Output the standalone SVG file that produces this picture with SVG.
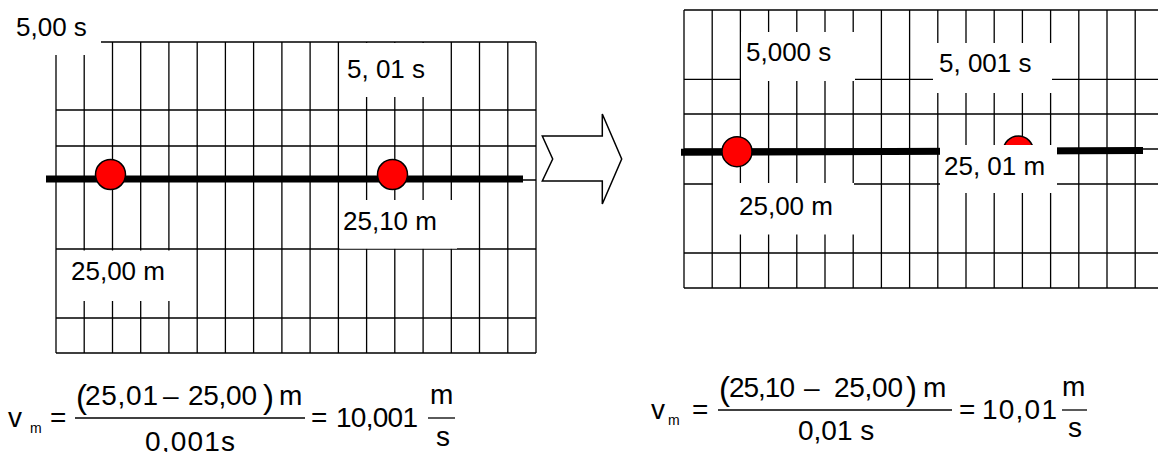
<svg xmlns="http://www.w3.org/2000/svg" width="1158" height="452" viewBox="0 0 1158 452">
<style>
.g{stroke:#000;stroke-width:1.3;fill:none}
.mask{fill:#fff;stroke:none}
.t{font-family:"Liberation Sans",Arial,sans-serif;font-size:26px;fill:#000}
.f{font-family:"Liberation Sans",Arial,sans-serif;font-size:28px;fill:#000}
.sub{font-family:"Liberation Sans",Arial,sans-serif;font-size:14px;fill:#000}
.par{font-family:"Liberation Sans",Arial,sans-serif;font-size:33px;fill:#000}
.thick{stroke:#000;stroke-width:7;fill:none}
.ball{fill:#ff0000;stroke:#000;stroke-width:1.5}
.bar{stroke:#000;stroke-width:1.3}
</style>
<rect width="1158" height="452" fill="#fff"/>

<g id="left-panel">
  <g class="g">
    <path d="M56 42V353M84.2 42V353M112.5 42V353M140.7 42V353M168.9 42V353M197.2 42V353M225.4 42V353M253.6 42V353M281.9 42V353M310.1 42V353M338.4 42V353M366.6 42V353M394.8 42V353M423.1 42V353M451.3 42V353M479.5 42V353M507.8 42V353M536 42V353"/>
    <path d="M56 42H536M56 110H536M56 146H536M56 180H536M56 249H536M56 318H536M56 353H536"/>
  </g>
  <rect class="mask" x="0" y="0" width="101" height="55"/>
  <rect class="mask" x="340" y="43" width="108" height="54"/>
  <rect class="mask" x="57.5" y="250.5" width="138.5" height="50.5"/>
  <rect class="mask" x="339.5" y="200" width="117.5" height="48.7"/>
  <line class="thick" x1="46" y1="179" x2="523" y2="179"/>
  <circle class="ball" cx="110.5" cy="174.5" r="15"/>
  <circle class="ball" cx="392.5" cy="174.5" r="15"/>
  <text class="t" x="16" y="35.5">5,00 s</text>
  <text class="t" x="347" y="78">5, 01 s</text>
  <text class="t" x="343" y="230">25,10 m</text>
  <text class="t" x="71" y="280">25,00 m</text>
</g>

<g id="arrow">
  <polygon points="542.3,136 602.3,136 602.3,114 621.7,159 602.3,204 602.3,181 542.3,181 552.7,159" fill="#fff" stroke="#000" stroke-width="1.5"/>
</g>

<g id="right-panel">
  <g class="g">
    <path d="M684 10V288M712.2 10V288M740.4 10V288M768.6 10V288M796.8 10V288M825 10V288M853.2 10V288M881.4 10V288M909.6 10V288M937.8 10V288M966 10V288M994.2 10V288M1022.4 10V288M1050.6 10V288M1078.8 10V288M1107 10V288M1135.2 10V288"/>
    <path d="M684 10H1158M684 79.3H1158M684 114H1158M684 149H1158M684 184H1158M684 253H1158M684 288H1158"/>
  </g>
  <rect class="mask" x="741" y="32" width="114" height="49"/>
  <rect class="mask" x="933" y="43" width="119" height="50"/>
  <rect class="mask" x="713" y="183" width="141" height="51.5"/>
  <line class="thick" x1="681" y1="152.3" x2="1143" y2="150.5"/>
  <circle class="ball" cx="737" cy="151.7" r="15"/>
  <circle class="ball" cx="1018.3" cy="151" r="15"/>
  <rect class="mask" x="940" y="145" width="117" height="48"/>
  <text class="t" x="746" y="61">5,000 s</text>
  <text class="t" x="939" y="71.5">5, 001 s</text>
  <text class="t" x="739" y="215">25,00 m</text>
  <text class="t" x="944" y="175">25, 01 m</text>
</g>

<g id="formula-left">
  <text class="f" x="8" y="427">v</text>
  <text class="sub" x="30" y="433">m</text>
  <text class="f" x="50" y="427">=</text>
  <text class="par" x="76" y="408">(</text>
  <text class="f" x="85" y="405" textLength="73">25,01</text>
  <text class="f" x="163" y="405">–</text>
  <text class="f" x="188" y="405" textLength="69">25,00</text>
  <text class="par" x="263" y="408">)</text>
  <text class="f" x="279" y="405">m</text>
  <line class="bar" x1="75" y1="418" x2="305" y2="418"/>
  <text class="f" x="145" y="451" textLength="90">0,001s</text>
  <text class="f" x="311" y="427">=</text>
  <text class="f" x="336" y="427" textLength="82">10,001</text>
  <text class="f" x="430" y="404">m</text>
  <line class="bar" x1="428" y1="418" x2="455" y2="418"/>
  <text class="f" x="436" y="446">s</text>
</g>

<g id="formula-right">
  <text class="f" x="651" y="419">v</text>
  <text class="sub" x="668" y="425">m</text>
  <text class="f" x="692" y="419">=</text>
  <text class="par" x="719" y="400">(</text>
  <text class="f" x="729" y="397" textLength="66">25,10</text>
  <text class="f" x="804" y="397">–</text>
  <text class="f" x="834" y="397" textLength="69">25,00</text>
  <text class="par" x="906" y="400">)</text>
  <text class="f" x="923" y="397">m</text>
  <line class="bar" x1="718" y1="410" x2="952" y2="410"/>
  <text class="f" x="798" y="440">0,01 s</text>
  <text class="f" x="959" y="419">=</text>
  <text class="f" x="982" y="419" textLength="75">10,01</text>
  <text class="f" x="1062" y="396">m</text>
  <line class="bar" x1="1062" y1="410" x2="1087" y2="410"/>
  <text class="f" x="1068" y="437">s</text>
</g>
</svg>
